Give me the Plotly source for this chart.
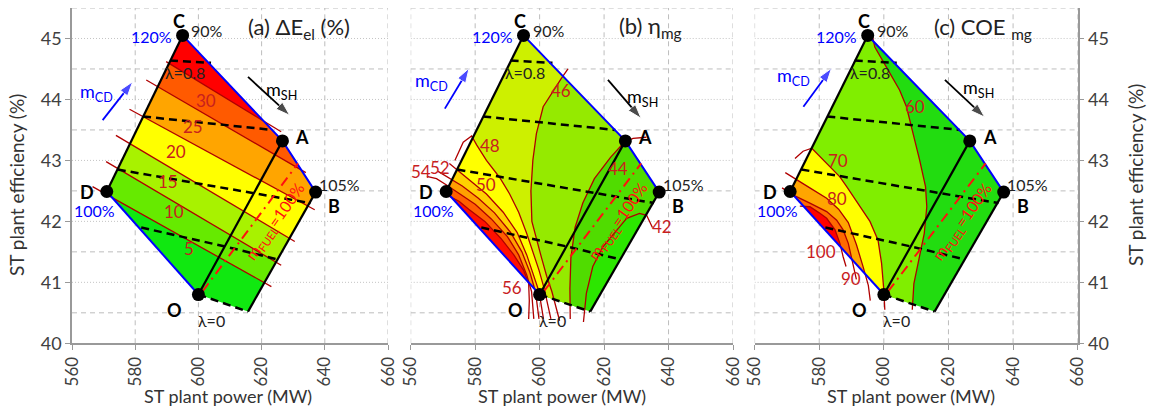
import plotly.graph_objects as go

# ---------------- shared geometry (ST plant power [MW], ST plant efficiency [%]) -------------
node_names = ["C", "A", "B", "D", "O", "E"]
node_x = [595.0, 626.6, 637.1, 571.0, 600.0, 615.7]
node_y = [45.05, 43.32, 42.48, 42.49, 40.80, 40.52]
region_order = [3, 0, 1, 2, 5, 4]          # D C A B E O (operating map outline)

lam_x = [[591.0, 604.0], [582.5, 623.5], [574.5, 613.0, 635.5], [581.9, 609.1, 624.7], [600.0, 615.7]]
lam_y = [[44.64, 44.60], [43.72, 43.50], [42.85, 42.51, 42.30], [41.90, 41.58, 41.38], [40.80, 40.52]]

mfuel_x = [601.3, 631.5]
mfuel_y = [40.85, 42.95]

lab_text = ["C", "90%", "120%", "A", "105%", "B", "D", "100%", "O", "λ=0", "λ=0.8"]
lab_x = [594.0, 602.8, 585.3, 632.8, 644.5, 643.0, 564.8, 567.1, 592.4, 604.0, 595.6]
lab_y = [45.29, 45.13, 45.03, 43.39, 42.60, 42.26, 42.48, 42.18, 40.55, 40.37, 44.44]
lab_color = ["black", "#222", "blue", "black", "#222", "black", "black", "blue", "black", "#222", "#222"]
lab_bold = [True, False, False, True, False, True, True, False, True, False, False]

# ---------------- panel (a) : Delta E_el (%) -------------
a_levels = [5, 10, 15, 20, 25, 30]
a_line_x = [[566.5, 623.1], [570.8, 626.2], [573.9, 630.5], [578.2, 636.8], [583.5, 634.0], [589.8, 626.2]]
a_line_y = [[42.57, 40.93], [42.98, 41.28], [43.41, 41.67], [43.84, 42.19], [44.32, 42.80], [44.62, 43.47]]
a_modes = ["up"] * 6
a_colors = ["#10E810", "#66EA00", "#A8F200", "#FFFF00", "#FFA500", "#FF5A00", "#FF0000"]
a_lab_x = [597.0, 592.4, 590.3, 593.0, 598.2, 602.5]
a_lab_y = [41.56, 42.16, 42.65, 43.14, 43.55, 43.99]

# ---------------- panel (b) : eta_mg -------------
b_levels = [42, 44, 46, 48, 50, 52, 54, 56]
b_line_x = [
    [635.0, 633.2, 631.0, 627.0, 624.8, 619.6, 616.5, 614.5, 613.6],
    [633.1, 629.0, 626.3, 622.0, 617.0, 613.4, 611.0, 609.7, 609.4, 609.5],
    [608.8, 606.7, 601.1, 599.0, 597.9, 597.3, 597.6, 599.0, 600.6, 602.2, 603.8, 606.2],
    [573.7, 576.3, 578.9, 580.5, 583.5, 587.6, 590.7, 593.5, 596.0, 598.2, 599.8, 601.4, 603.5],
    [572.0, 578.4, 583.5, 588.7, 593.0, 596.0, 598.2, 599.8, 601.2],
    [568.5, 572.0, 576.0, 581.0, 586.0, 591.0, 594.5, 597.0, 598.7, 599.8],
    [565.0, 568.0, 571.0, 575.0, 580.0, 585.0, 590.0, 593.5, 596.0, 597.5, 598.2],
    [572.0, 575.0, 578.0, 583.0, 588.0, 592.0, 595.0, 596.6, 596.8, 596.6],
]
b_line_y = [
    [41.90, 42.10, 42.13, 42.05, 41.91, 41.58, 41.26, 40.82, 40.35],
    [43.38, 43.36, 43.30, 43.05, 42.70, 42.30, 41.90, 41.40, 40.90, 40.40],
    [44.50, 44.34, 43.88, 43.44, 43.00, 42.50, 42.00, 41.70, 41.40, 41.10, 40.85, 40.37],
    [43.00, 43.30, 43.40, 43.25, 43.00, 42.72, 42.45, 42.15, 41.80, 41.45, 41.20, 40.90, 40.40],
    [42.95, 42.68, 42.45, 42.15, 41.82, 41.45, 41.10, 40.85, 40.40],
    [42.82, 42.71, 42.58, 42.38, 42.14, 41.82, 41.50, 41.16, 40.85, 40.40],
    [42.74, 42.70, 42.60, 42.46, 42.28, 42.04, 41.75, 41.45, 41.12, 40.85, 40.40],
    [42.41, 42.33, 42.20, 42.00, 41.72, 41.45, 41.20, 40.98, 40.70, 40.40],
]
b_modes = ["left", "left", "left", "lowerleft", "lowerleft", "lowerleft", "lowerleft", "lowerleft"]
b_colors = ["#2CE600", "#50DC00", "#95EA00", "#CDF000", "#FFFF00", "#FFD200", "#FFA000", "#FF6000", "#FF1000"]
b_lab_x = [637.9, 624.3, 606.7, 584.6, 583.5, 569.1, 563.2, 591.4]
b_lab_y = [41.91, 42.87, 44.15, 43.25, 42.60, 42.88, 42.81, 40.92]

# ---------------- panel (c) : COE_mg -------------
c_levels = [60, 70, 80, 90, 100]
c_line_x = [
    [596.2, 597.2, 600.8, 604.9, 607.0, 609.1, 611.1, 612.9, 613.3, 612.5, 610.8, 609.3, 608.8],
    [572.5, 575.0, 577.7, 582.3, 586.4, 588.5, 592.6, 595.7, 598.2, 599.3, 600.0, 600.3],
    [569.5, 573.0, 577.1, 582.3, 586.0, 589.0, 591.5, 593.5, 595.2, 595.8],
    [568.5, 572.0, 577.1, 582.3, 585.4, 587.4, 589.0, 590.0, 591.0, 591.5],
    [574.0, 577.1, 580.0, 582.3, 584.9, 586.4, 587.4, 588.3],
]
c_line_y = [
    [45.11, 44.86, 44.53, 44.15, 43.88, 43.44, 43.00, 42.57, 42.24, 41.80, 41.35, 40.98, 40.55],
    [43.03, 43.15, 43.20, 42.95, 42.73, 42.57, 42.24, 42.00, 41.69, 41.31, 40.87, 40.55],
    [42.80, 42.68, 42.55, 42.38, 42.20, 41.98, 41.62, 41.27, 40.95, 40.70],
    [42.55, 42.43, 42.30, 42.16, 42.02, 41.86, 41.64, 41.42, 41.20, 41.05],
    [42.25, 42.24, 42.14, 42.05, 41.86, 41.64, 41.42, 41.26],
]
c_modes = ["left", "lowerleft", "lowerleft", "lowerleft", "lowerleft"]
c_colors = ["#22DC10", "#80EE00", "#FFFF00", "#FFA500", "#FF6A00", "#FF0000"]
c_lab_x = [609.6, 585.9, 585.4, 589.7, 580.7]
c_lab_y = [43.88, 43.00, 42.37, 41.07, 41.50]

titles = ["(a) ΔE<sub>el</sub> (%)", "(b) η<sub>mg</sub>", "(c) COE <sub>mg</sub>"]
title_x = [631.8, 634.4, 630.6]
title_y = [45.18, 45.19, 45.18]

mcd_tail_x = [569.7, 570.6, 575.1]; mcd_tail_y = [43.66, 43.85, 43.88]
mcd_head_x = [579.2, 578.1, 583.8]; mcd_head_y = [44.29, 44.51, 44.51]
mcd_lab_x = [567.6, 566.5, 572.0]; mcd_lab_y = [44.12, 44.29, 44.37]
msh_tail_x = [615.7, 621.2, 618.9]; msh_tail_y = [44.37, 44.32, 44.32]
msh_head_x = [628.9, 631.5, 631.2]; msh_head_y = [43.74, 43.69, 43.71]
msh_lab_x = [626.2, 632.0, 629.2]; msh_lab_y = [44.15, 44.04, 44.18]

x_ticks = [560, 580, 600, 620, 640, 660]
y_ticks = [40, 41, 42, 43, 44, 45]
x_domains = [[72 / 1150, 388 / 1150], [410.7 / 1150, 733 / 1150], [754.6 / 1150, 1077.7 / 1150]]
y_domain = [1 - 343.3 / 408, 1 - 8 / 408]

FONT = "Lato, Open Sans, sans-serif"
LINE_RED = "#B00000"
LAB_RED = "#C8201E"


# ---------------- helpers -------------
def clip_to_region(poly, rx, ry):
    n = len(rx)
    area = sum(rx[i] * ry[(i + 1) % n] - rx[(i + 1) % n] * ry[i] for i in range(n))
    s = 1.0 if area > 0 else -1.0
    out = list(poly)
    for i in range(n):
        a = (rx[i], ry[i])
        b = (rx[(i + 1) % n], ry[(i + 1) % n])

        def side(p):
            return s * ((b[0] - a[0]) * (p[1] - a[1]) - (b[1] - a[1]) * (p[0] - a[0]))

        inp, out = out, []
        if not inp:
            break
        prev = inp[-1]
        for cur in inp:
            sc, sp = side(cur), side(prev)
            if sc >= 0:
                if sp < 0:
                    t = sp / (sp - sc)
                    out.append((prev[0] + t * (cur[0] - prev[0]), prev[1] + t * (cur[1] - prev[1])))
                out.append(cur)
            elif sp >= 0:
                t = sp / (sp - sc)
                out.append((prev[0] + t * (cur[0] - prev[0]), prev[1] + t * (cur[1] - prev[1])))
            prev = cur
    return out


def high_side(xs, ys, mode):
    pts = list(zip(xs, ys))
    if mode == "up":
        extra = [(700, ys[-1]), (700, 60), (500, 60), (500, ys[0])]
    elif mode == "left":
        extra = [(xs[-1], 30), (500, 30), (500, 60), (700, 60), (700, ys[0])]
    else:  # lowerleft
        extra = [(xs[-1], 30), (500, 30), (500, ys[0])]
    return pts + extra


fig = go.Figure()
annotations = []
shapes = []

reg_x = [node_x[i] for i in region_order]
reg_y = [node_y[i] for i in region_order]

panels = [
    (a_levels, a_line_x, a_line_y, a_modes, a_colors, a_lab_x, a_lab_y),
    (b_levels, b_line_x, b_line_y, b_modes, b_colors, b_lab_x, b_lab_y),
    (c_levels, c_line_x, c_line_y, c_modes, c_colors, c_lab_x, c_lab_y),
]


def ann(**kw):
    kw.setdefault("xanchor", "center")
    kw.setdefault("yanchor", "middle")
    annotations.append(kw)


for k, (levels, lxs, lys, modes, colors, labx, laby) in enumerate(panels):
    xa = "x" if k == 0 else f"x{k + 1}"
    ya = "y" if k == 0 else f"y{k + 1}"
    xref, yref = xa, ya

    # grid as shapes
    for gx in [580, 600, 620, 640, 660] + ([560] if k > 0 else []):
        shapes.append(dict(type="line", xref=xref, yref=yref, x0=gx, x1=gx, y0=40, y1=45.5,
                           line=dict(color="#BDBDBD", width=1, dash="5px,4px"), layer="below"))
    for gy in [40.5, 41.5, 42.5, 43.5, 44.5, 45.5]:
        shapes.append(dict(type="line", xref=xref, yref=yref, x0=560, x1=660, y0=gy, y1=gy,
                           line=dict(color="#BDBDBD", width=1, dash="5px,4px"), layer="below"))
    for gy in [41, 42, 43, 44, 45]:
        shapes.append(dict(type="line", xref=xref, yref=yref, x0=560, x1=660, y0=gy, y1=gy,
                           line=dict(color="#C4C4C4", width=1, dash="1px,2px"), layer="below"))

    # filled bands
    fig.add_trace(go.Scatter(x=reg_x + [reg_x[0]], y=reg_y + [reg_y[0]], fill="toself",
                             fillcolor=colors[0], mode="lines", line=dict(width=0),
                             hoverinfo="skip", xaxis=xa, yaxis=ya))
    for i in range(len(levels)):
        poly = clip_to_region(high_side(lxs[i], lys[i], modes[i]), reg_x, reg_y)
        if len(poly) < 3:
            continue
        px = [p[0] for p in poly] + [poly[0][0]]
        py = [p[1] for p in poly] + [poly[0][1]]
        fig.add_trace(go.Scatter(x=px, y=py, fill="toself", fillcolor=colors[i + 1], mode="lines",
                                 line=dict(width=0), hoverinfo="skip", xaxis=xa, yaxis=ya))
    # contour lines
    for i in range(len(levels)):
        fig.add_trace(go.Scatter(x=lxs[i], y=lys[i], mode="lines", line=dict(color=LINE_RED, width=1.3),
                                 hoverinfo="skip", xaxis=xa, yaxis=ya))
        ann(x=labx[i], y=laby[i], xref=xref, yref=yref, text=str(levels[i]),
            showarrow=False, font=dict(size=17, color=LAB_RED, family=FONT))

    # lambda lines
    for lx, ly in zip(lam_x, lam_y):
        fig.add_trace(go.Scatter(x=lx, y=ly, mode="lines", line=dict(color="black", width=2.5, dash="8px,5px"),
                                 hoverinfo="skip", xaxis=xa, yaxis=ya))
    # solid black edges
    for (i0, i1) in [(3, 0), (4, 1), (5, 2)]:
        fig.add_trace(go.Scatter(x=[node_x[i0], node_x[i1]], y=[node_y[i0], node_y[i1]], mode="lines",
                                 line=dict(color="black", width=2.2), hoverinfo="skip", xaxis=xa, yaxis=ya))
    # blue edges
    fig.add_trace(go.Scatter(x=[node_x[0], node_x[1], node_x[2]], y=[node_y[0], node_y[1], node_y[2]],
                             mode="lines", line=dict(color="#0000FF", width=2), hoverinfo="skip", xaxis=xa, yaxis=ya))
    fig.add_trace(go.Scatter(x=[node_x[3], node_x[4]], y=[node_y[3], node_y[4]],
                             mode="lines", line=dict(color="#0000FF", width=2), hoverinfo="skip", xaxis=xa, yaxis=ya))
    # m_fuel line
    fig.add_trace(go.Scatter(x=mfuel_x, y=mfuel_y, mode="lines",
                             line=dict(color="#FF1010", width=2, dash="10px,5px,2px,5px"),
                             hoverinfo="skip", xaxis=xa, yaxis=ya))
    # nodes
    fig.add_trace(go.Scatter(x=node_x[:5], y=node_y[:5], mode="markers",
                             marker=dict(color="black", size=13), hoverinfo="skip", xaxis=xa, yaxis=ya))

    # arrows (line + arrow-head marker oriented along the segment)
    for tx, ty, hx, hy, col in [(mcd_tail_x[k], mcd_tail_y[k], mcd_head_x[k], mcd_head_y[k], "#0000FF"),
                                (msh_tail_x[k], msh_tail_y[k], msh_head_x[k], msh_head_y[k], "black")]:
        fig.add_trace(go.Scatter(x=[tx, hx], y=[ty, hy], mode="lines+markers",
                                 line=dict(color=col, width=1.8),
                                 marker=dict(symbol="arrow", size=[0, 15], angleref="previous", color=col),
                                 hoverinfo="skip", xaxis=xa, yaxis=ya))

    # text labels
    for t, lx, ly, col, bold in zip(lab_text, lab_x, lab_y, lab_color, lab_bold):
        ann(x=lx, y=ly, xref=xref, yref=yref, text=f"<b>{t}</b>" if bold else t,
            showarrow=False, font=dict(size=18 if bold else 16, color=col, family=FONT))
    ann(x=624.3, y=42.0, xref=xref, yref=yref, text="m<sub>FUEL</sub>=100%",
        textangle=-55, showarrow=False, font=dict(size=16, color="#FF1010", family=FONT))
    ann(x=title_x[k], y=title_y[k], xref=xref, yref=yref, text=titles[k], showarrow=False,
        font=dict(size=22, color="#222", family=FONT))
    ann(x=mcd_lab_x[k], y=mcd_lab_y[k], xref=xref, yref=yref, text="m<sub>CD</sub>",
        showarrow=False, font=dict(size=18, color="#0000FF", family=FONT))
    ann(x=msh_lab_x[k], y=msh_lab_y[k], xref=xref, yref=yref, text="m<sub>SH</sub>",
        showarrow=False, font=dict(size=18, color="black", family=FONT))

    # axes
    xax = dict(domain=x_domains[k], range=[560, 660], tickvals=x_ticks, tickangle=-90, ticks="outside",
               ticklen=5, tickcolor="#999", showgrid=False, zeroline=False, showline=True,
               linecolor="#999", linewidth=1.5, anchor=ya, automargin=False,
               tickfont=dict(size=17, color="#404040", family=FONT))
    yax = dict(domain=y_domain, range=[40, 45.5], tickvals=y_ticks, showgrid=False, zeroline=False,
               anchor=xa, automargin=False, tickfont=dict(size=18, color="#404040", family=FONT))
    if k == 0:
        yax.update(showline=True, linecolor="#999", linewidth=1.5, ticks="outside", ticklen=5, tickcolor="#999")
    elif k == 1:
        yax.update(showline=False, showticklabels=False, ticks="")
    else:
        yax.update(side="right", showline=True, linecolor="#999", linewidth=1.5, ticks="outside",
                   ticklen=5, tickcolor="#999")
    key = "" if k == 0 else str(k + 1)
    fig.layout["xaxis" + key] = xax
    fig.layout["yaxis" + key] = yax

# axis titles
for cx in [228, 562, 911]:
    ann(x=cx / 1150, y=1 - 396 / 408, xref="paper", yref="paper", text="ST plant power (MW)",
        showarrow=False, font=dict(size=18, color="#333", family=FONT))
ann(x=17 / 1150, y=1 - 185 / 408, xref="paper", yref="paper", text="ST plant efficiency (%)",
    textangle=-90, showarrow=False, font=dict(size=19, color="#333", family=FONT))
ann(x=1135 / 1150, y=1 - 175 / 408, xref="paper", yref="paper", text="ST plant efficiency (%)",
    textangle=-90, showarrow=False, font=dict(size=19, color="#333", family=FONT))

fig.update_layout(width=1150, height=408, margin=dict(l=0, r=0, t=0, b=0), showlegend=False,
                  plot_bgcolor="white", paper_bgcolor="white", annotations=annotations, shapes=shapes,
                  font=dict(family=FONT))
fig.write_html("out.html")
